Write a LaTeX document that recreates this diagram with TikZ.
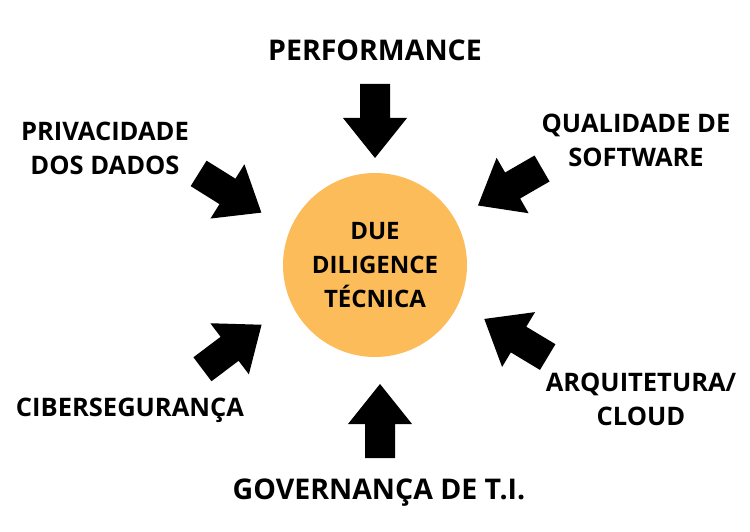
\documentclass[tikz,border=0pt]{standalone}
\usepackage{fontspec}
\setmainfont{Open Sans}
\usetikzlibrary{calc}
\definecolor{dueorange}{HTML}{FDBC5A}
\tikzset{
  lbl/.style={font=\bfseries\fontsize{25.5}{34}\selectfont, align=center, text=black},
  biglbl/.style={lbl, font=\bfseries\fontsize{28.5}{35}\selectfont},
  core/.style={circle, fill=dueorange, minimum size=184pt, inner sep=0pt,
    font=\bfseries\fontsize{24}{34}\selectfont, align=center}
}
\begin{document}
\begin{tikzpicture}[x=1pt,y=-1pt]
  \useasboundingbox (0,0) rectangle (750,532);
  \node[core] (due) at (375,265) {DUE\\DILIGENCE\\TÉCNICA};
  % arrows pointing to the core
  \foreach \cx/\cy/\ang in {375/121/-90, 230/193/-32, 510/187/-150,
                            232/347/37, 516/338/149, 380/421/90}
  {
    \begin{scope}[shift={(\cx,\cy)}, rotate=\ang]
      \fill (-37,-15) -- (-3,-15) -- (-3,-32) -- (37,0) -- (-3,32)
            -- (-3,15) -- (-37,15) -- cycle;
    \end{scope}
  }
  \node[biglbl] (perf) at (375,50) {PERFORMANCE};
  \node[lbl] (priv) at (105,148) {PRIVACIDADE\\DOS DADOS};
  \node[lbl] (qual) at (636,140) {QUALIDADE DE\\SOFTWARE};
  \node[lbl] (arq) at (641,399) {ARQUITETURA/\\CLOUD};
  \node[lbl] (ciber) at (130,410) {CIBERSEGURANÇA};
  \node[biglbl] (gov) at (379,493) {GOVERNANÇA DE T.I.};
\end{tikzpicture}
\end{document}
